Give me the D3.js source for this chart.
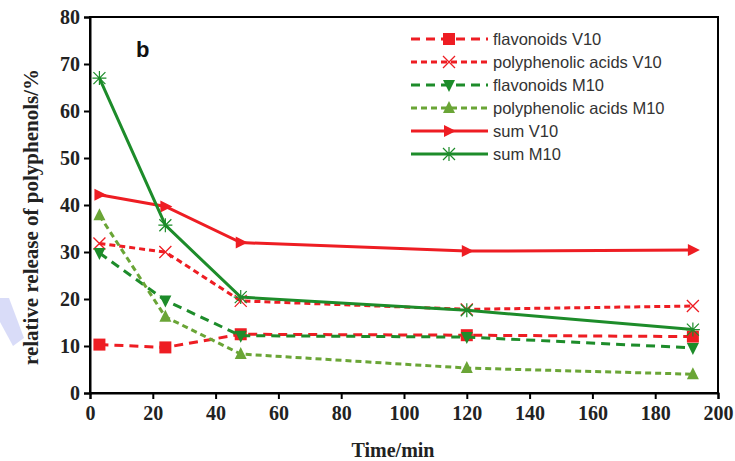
<!DOCTYPE html>
<html><head><meta charset="utf-8">
<script src="https://cdn.jsdelivr.net/npm/d3@7"></script>
<style>body{margin:0;background:#fff}svg{display:block}</style>
</head><body>
<script>
const times = [3, 24, 48, 120, 192];
const flavV10 = [10.3, 9.7, 12.5, 12.3, 12.0];
const acidV10 = [31.8, 30.0, 19.6, 17.8, 18.5];
const flavM10 = [29.8, 19.7, 12.2, 11.9, 9.6];
const acidM10 = [37.8, 16.2, 8.3, 5.3, 4.0];
const sumV10 = [42.2, 39.7, 32.0, 30.2, 30.4];
const sumM10 = [67.0, 35.7, 20.4, 17.6, 13.5];
const seriesNames = ["flavonoids V10", "polyphenolic acids V10", "flavonoids M10", "polyphenolic acids M10", "sum V10", "sum M10"];
const xTicks = [0, 20, 40, 60, 80, 100, 120, 140, 160, 180, 200];
const yTicks = [0, 10, 20, 30, 40, 50, 60, 70, 80];

const RED = "#ee1d23", GREEN = "#1d8c2a", LGREEN = "#6aa536";
const series = [
  {name: seriesNames[0], vals: flavV10, color: RED, dash: "9,6", marker: "square"},
  {name: seriesNames[1], vals: acidV10, color: RED, dash: "6,4", marker: "x"},
  {name: seriesNames[2], vals: flavM10, color: GREEN, dash: "9,6", marker: "down"},
  {name: seriesNames[3], vals: acidM10, color: LGREEN, dash: "6,4", marker: "up"},
  {name: seriesNames[4], vals: sumV10, color: RED, dash: null, marker: "right"},
  {name: seriesNames[5], vals: sumM10, color: GREEN, dash: null, marker: "star"}
];

const W = 735, H = 461;
const svg = d3.select("body").append("svg").attr("width", W).attr("height", H);
const x = d3.scaleLinear().domain([0, 200]).range([90, 718]);
const y = d3.scaleLinear().domain([0, 80]).range([393, 17]);

// watermark
svg.append("polygon").attr("points", "0,298 9,298 24,338 13,346 0,322")
  .attr("fill", "#c9cdf5").attr("opacity", 0.7);

// frame
svg.append("rect").attr("x", x(0)).attr("y", y(80)).attr("width", x(200) - x(0)).attr("height", y(0) - y(80))
  .attr("fill", "none").attr("stroke", "#000").attr("stroke-width", 2);

const serif = "'Liberation Serif', 'Times New Roman', serif";
const sans = "'Liberation Sans', Arial, sans-serif";

const xAxis = svg.append("g").attr("transform", `translate(0,${y(0)})`)
  .call(d3.axisBottom(x).tickValues(xTicks).tickSize(6).tickPadding(6));
const yAxis = svg.append("g").attr("transform", `translate(${x(0)},0)`)
  .call(d3.axisLeft(y).tickValues(yTicks).tickSize(6).tickPadding(4));
[xAxis, yAxis].forEach(g => {
  g.attr("font-size", 20).attr("font-family", serif);
  g.select(".domain").attr("stroke", "#000").attr("stroke-width", 2);
  g.selectAll(".tick line").attr("stroke", "#000").attr("stroke-width", 2);
  g.selectAll(".tick text").style("font-family", serif).style("font-weight", "bold")
    .style("font-size", "20px").attr("fill", "#222");
});
xAxis.selectAll(".tick text").attr("dy", "0.75em");

svg.append("text").attr("x", 393).attr("y", 457).attr("text-anchor", "middle")
  .style("font-family", serif).style("font-weight", "bold").style("font-size", "20px").attr("fill", "#222")
  .text("Time/min");
svg.append("text").attr("transform", "translate(38,217) rotate(-90)").attr("text-anchor", "middle")
  .style("font-family", serif).style("font-weight", "bold").style("font-size", "21px").attr("fill", "#222")
  .text("relative release of polyphenols/%");

svg.append("text").attr("x", 136).attr("y", 57).style("font-family", sans).style("font-weight", "bold")
  .style("font-size", "22px").attr("fill", "#111").text("b");

function drawMarker(g, type, cx, cy, color) {
  const s = 6;
  if (type === "square") {
    g.append("rect").attr("x", cx - s).attr("y", cy - s).attr("width", 2 * s).attr("height", 2 * s).attr("fill", color);
  } else if (type === "x") {
    g.append("path").attr("d", `M${cx - s},${cy - s}L${cx + s},${cy + s}M${cx - s},${cy + s}L${cx + s},${cy - s}`)
      .attr("stroke", color).attr("stroke-width", 1.3).attr("fill", "none");
  } else if (type === "down") {
    g.append("path").attr("d", `M${cx - s},${cy - s + 1}L${cx + s},${cy - s + 1}L${cx},${cy + s + 1}Z`).attr("fill", color);
  } else if (type === "up") {
    g.append("path").attr("d", `M${cx - s},${cy + s - 1}L${cx + s},${cy + s - 1}L${cx},${cy - s - 1}Z`).attr("fill", color);
  } else if (type === "right") {
    g.append("path").attr("d", `M${cx - s + 1},${cy - s}L${cx - s + 1},${cy + s}L${cx + s + 1},${cy}Z`).attr("fill", color);
  } else if (type === "star") {
    g.append("path").attr("d", `M${cx - s},${cy - s}L${cx + s},${cy + s}M${cx - s},${cy + s}L${cx + s},${cy - s}M${cx},${cy - s - 1}L${cx},${cy + s + 1}M${cx - s - 1},${cy}L${cx + s + 1},${cy}`)
      .attr("stroke", color).attr("stroke-width", 1.2).attr("fill", "none");
  }
}

const line = d3.line().x(d => x(d[0])).y(d => y(d[1]));
series.forEach(s => {
  const pts = times.map((t, i) => [t, s.vals[i]]);
  const g = svg.append("g");
  g.append("path").attr("d", line(pts)).attr("fill", "none").attr("stroke", s.color)
    .attr("stroke-width", 3).attr("stroke-dasharray", s.dash);
  pts.forEach(p => drawMarker(g, s.marker, x(p[0]), y(p[1]), s.color));
});

// legend
const legY = [39, 62, 85, 108, 131, 154];
series.forEach((s, i) => {
  const g = svg.append("g");
  const ly = legY[i];
  g.append("line").attr("x1", 411).attr("x2", 488).attr("y1", ly).attr("y2", ly)
    .attr("stroke", s.color).attr("stroke-width", 3).attr("stroke-dasharray", s.dash);
  drawMarker(g, s.marker, 449, ly, s.color);
  g.append("text").attr("x", 493).attr("y", ly + 6).style("font-family", sans).style("font-size", "16.5px")
    .attr("fill", "#333").text(s.name);
});
</script>
</body></html>
